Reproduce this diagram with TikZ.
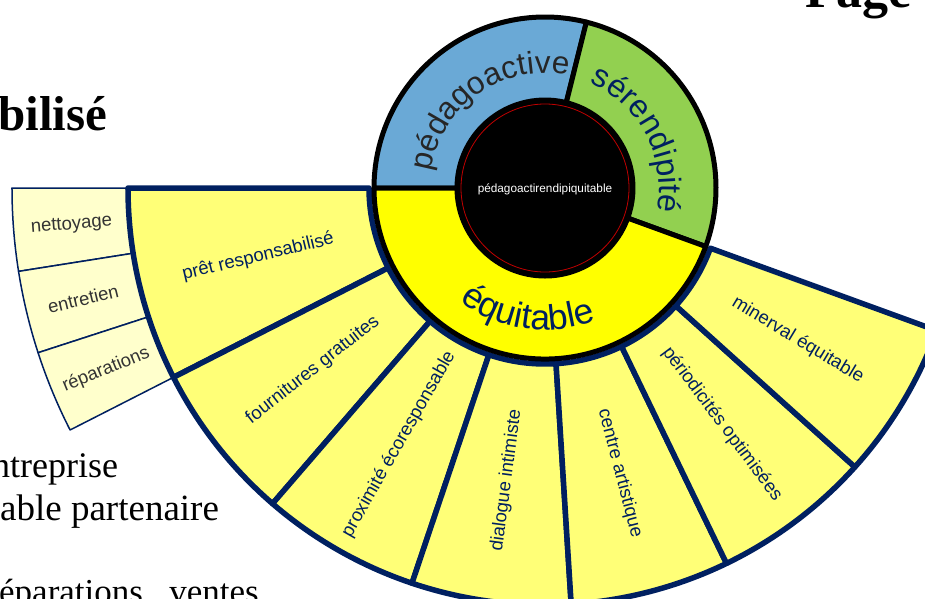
\documentclass[tikz,border=0pt]{standalone}
\usepackage{fontspec}
\setmainfont{Liberation Serif}
\newfontfamily\arial{Liberation Sans}
\usetikzlibrary{decorations.text}

\definecolor{navy}{HTML}{002060}
\definecolor{pedablue}{HTML}{6AA9D6}
\definecolor{serengreen}{HTML}{92D050}
\definecolor{equiyellow}{HTML}{FFFF00}
\definecolor{leafyellow}{HTML}{FFFF77}
\definecolor{paleyellow}{HTML}{FFFFCC}
\definecolor{redline}{HTML}{C00000}
\definecolor{twiggray}{HTML}{333333}

\tikzset{
  leaf/.style={fill=leafyellow,draw=navy,line width=5.5,line join=round},
  twig/.style={fill=paleyellow,draw=navy,line width=1.5,line join=round},
  hub/.style={draw=black,line width=5,line join=round},
  leaflabel/.style={font=\arial\fontsize{18.5}{20}\selectfont,text=navy},
  twiglabel/.style={font=\arial\fontsize{18.5}{20}\selectfont,text=twiggray},
  pagetext/.style={anchor=base west,inner sep=0pt,font=\fontsize{36}{40}\selectfont}
}

\begin{document}
\begin{tikzpicture}[x=1pt,y=1pt]
  \useasboundingbox (-545,-410) rectangle (380,188);

  % page text behind the wheel
  \node[pagetext,font=\bfseries\fontsize{49}{50}\selectfont] (title) at (-547,58) {bilisé};
  \node[pagetext,font=\bfseries\fontsize{52}{54}\selectfont] (pagenum) at (260,181) {Page};
  \node[pagetext] (line1) at (-553,-289) {ntreprise};
  \node[pagetext,font=\fontsize{37}{40}\selectfont] (line2) at (-545,-332) {able partenaire};
  \node[pagetext,font=\fontsize{35}{40}\selectfont] (line3) at (-546,-415) {éparations,\ \ ventes};

  % outermost ring
  \foreach \a/\b/\lbl [count=\i] in {180/189/nettoyage, 189/198/entretien, 198/207/réparations}
  {
    \draw[twig] (\a:417) arc[start angle=\a,end angle=\b,radius=417] -- (\b:533) arc[start angle=\b,end angle=\a,radius=533] -- cycle;
    \pgfmathsetmacro\mid{(\a+\b)/2}
    \node[twiglabel,rotate=\mid-180] (twig\i) at (\mid:475) {\lbl};
  }

  % second ring
  \foreach \a/\b/\lbl [count=\i] in {180/207/prêt responsabilisé, 207/229.2/fournitures gratuites,
      229.2/251.4/proximité écoresponsable, 251.4/273.6/dialogue intimiste, 273.6/295.8/centre artistique,
      295.8/318/périodicités optimisées, 318/340/minerval équitable}
  {
    \draw[leaf] (\a:176) arc[start angle=\a,end angle=\b,radius=176] -- (\b:417) arc[start angle=\b,end angle=\a,radius=417] -- cycle;
    \pgfmathsetmacro\mid{(\a+\b)/2}
    \pgfmathsetmacro\rot{\mid<270 ? \mid-180 : \mid-360}
    \node[leaflabel,rotate=\rot] (leaf\i) at (\mid:295) {\lbl};
  }

  % first ring
  \draw[hub,fill=pedablue] (76:88) arc[start angle=76,end angle=180,radius=88] -- (180:171) arc[start angle=180,end angle=76,radius=171] -- cycle;
  \draw[hub,fill=serengreen] (-20:88) arc[start angle=-20,end angle=76,radius=88] -- (76:171) arc[start angle=76,end angle=-20,radius=171] -- cycle;
  \draw[hub,fill=equiyellow] (180:88) arc[start angle=180,end angle=340,radius=88] -- (340:171) arc[start angle=340,end angle=180,radius=171] -- cycle;

  \path[decorate,decoration={text along path,text align=center,
    text={|\arial\fontsize{31.5}{32}\selectfont\color{black!85}|pédagoactive}}]
    (175:115) arc[start angle=175,end angle=75,radius=115];
  \path[decorate,decoration={text along path,text align=center,
    text={|\arial\fontsize{32}{32}\selectfont\color{navy}|sérendipité}}]
    (75:114) arc[start angle=75,end angle=-20,radius=114];
  \path[decorate,decoration={text along path,text align=center,
    text={|\arial\fontsize{35.5}{36}\selectfont\color{navy}|équitable}}]
    (212:142) arc[start angle=212,end angle=312,radius=142];

  % centre
  \fill[black] (0,0) circle[radius=88];
  \draw[redline,line width=0.8] (0,0) circle[radius=84];
  \node[text=white,font=\arial\fontsize{11.8}{13}\selectfont] (core) at (0,-1) {pédagoactirendipiquitable};
\end{tikzpicture}
\end{document}
